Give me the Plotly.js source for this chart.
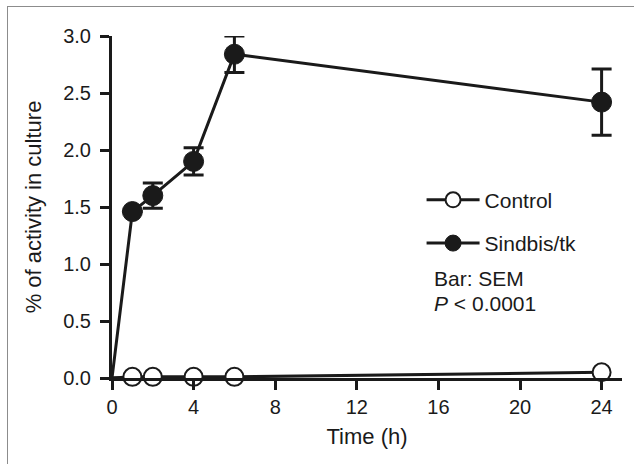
<!DOCTYPE html>
<html>
<head>
<meta charset="utf-8">
<script src="https://cdn.plot.ly/plotly-3.0.1.min.js"></script>
<style>
  html, body { margin: 0; padding: 0; background: #fff; }
  #wrap { position: relative; width: 634px; height: 464px; overflow: hidden; }
  #chart { position: absolute; left: 0; top: 0; width: 634px; height: 464px; }
  #frame { position: absolute; left: 7px; top: 6px; width: 640px; height: 470px;
           border-top: 1px solid #8c8c8c; border-left: 1px solid #8c8c8c; pointer-events: none; }
</style>
</head>
<body>
<div id="wrap">
  <div id="chart"></div>
  <div id="frame"></div>
</div>
<script>
// Data
const timeHours = [0, 1, 2, 4, 6, 24];
const controlActivity = [0, 0.01, 0.01, 0.01, 0.01, 0.05];
const sindbisActivity = [0, 1.46, 1.60, 1.90, 2.84, 2.42];
const sindbisSEM = [0, 0, 0.11, 0.12, 0.16, 0.29];
const xTickValues = [0, 4, 8, 12, 16, 20, 24];
const yTickValues = [0, 0.5, 1.0, 1.5, 2.0, 2.5, 3.0];
const seriesNames = ['Control', 'Sindbis/tk'];

const ink = '#1a1a1a';
const fontFamily = '"Liberation Sans", Arial, Helvetica, sans-serif';
// no marker at the origin point
const markerSizes = timeHours.map(t => (t === 0 ? 0 : 18));

const traces = [
  {
    x: timeHours, y: controlActivity, name: seriesNames[0],
    type: 'scatter', mode: 'lines+markers', cliponaxis: false,
    legendgroup: 'a',
    line: { color: ink, width: 3 },
    marker: { symbol: 'circle', size: markerSizes, opacity: 1, color: '#ffffff', line: { color: ink, width: 2 } }
  },
  {
    x: timeHours, y: sindbisActivity, name: seriesNames[1],
    type: 'scatter', mode: 'lines+markers', cliponaxis: false,
    legendgroup: 'b',
    line: { color: ink, width: 3 },
    marker: { symbol: 'circle', size: markerSizes.map(s => s ? s + 2 : 0), opacity: 1, color: ink, line: { color: ink, width: 1 } },
    error_y: { type: 'data', array: sindbisSEM, visible: true, color: ink, thickness: 3, width: 10 }
  }
];

const layout = {
  width: 634, height: 464,
  margin: { l: 112, r: 12, t: 36, b: 86 },
  paper_bgcolor: '#ffffff', plot_bgcolor: '#ffffff',
  font: { family: fontFamily, color: ink, size: 21 },
  showlegend: true,
  legend: {
    x: 0.607, y: 0.58, xanchor: 'left', yanchor: 'top',
    bgcolor: 'rgba(0,0,0,0)', font: { size: 21, color: ink, family: fontFamily },
    tracegroupgap: 13, itemwidth: 53
  },
  xaxis: {
    range: [0, 25], tickmode: 'array', tickvals: xTickValues, ticktext: xTickValues.map(String),
    showline: true, linecolor: ink, linewidth: 3, mirror: false,
    ticks: 'outside', ticklen: 9, tickwidth: 3, tickcolor: ink,
    showgrid: false, zeroline: false,
    tickfont: { size: 20, color: ink, family: fontFamily },
    title: { text: 'Time (h)', font: { size: 22, color: ink, family: fontFamily }, standoff: 12 }
  },
  yaxis: {
    range: [0, 3], tickmode: 'array', tickvals: yTickValues, ticktext: yTickValues.map(v => v.toFixed(1)),
    showline: true, linecolor: ink, linewidth: 3, mirror: false,
    ticks: 'outside', ticklen: 9, tickwidth: 3, tickcolor: ink,
    ticklabelstandoff: 5,
    showgrid: false, zeroline: false,
    tickfont: { size: 20, color: ink, family: fontFamily },
    title: { text: '% of activity in culture', font: { size: 22, color: ink, family: fontFamily }, standoff: 16 }
  },
  annotations: [
    { xref: 'paper', yref: 'paper', x: 0.628, y: 0.29, xanchor: 'left', yanchor: 'middle',
      text: 'Bar: SEM', showarrow: false, font: { size: 21, color: ink, family: fontFamily } },
    { xref: 'paper', yref: 'paper', x: 0.628, y: 0.219, xanchor: 'left', yanchor: 'middle',
      text: '<i>P</i> < 0.0001', showarrow: false, font: { size: 21, color: ink, family: fontFamily } }
  ]
};

Plotly.newPlot('chart', traces, layout, { displayModeBar: false, staticPlot: true });
</script>
</body>
</html>
